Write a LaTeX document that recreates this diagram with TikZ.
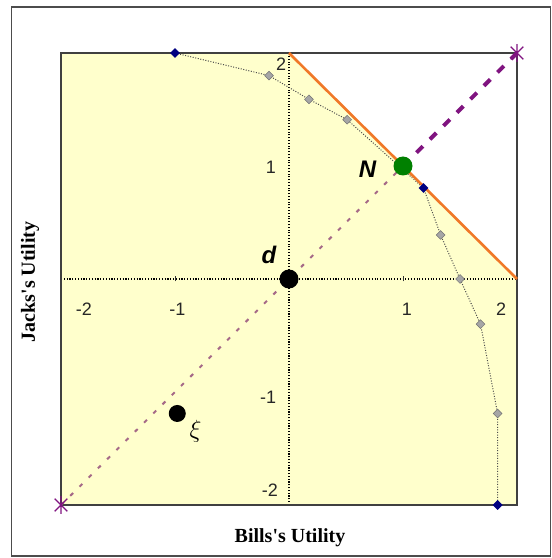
\documentclass[tikz,border=0pt]{standalone}
\usepackage{fontspec}
\setmainfont{Liberation Serif}
\newfontfamily\sansf{Liberation Sans}
\usetikzlibrary{shapes.geometric}
\pgfdeclarelayer{back}
\pgfdeclarelayer{mid}
\pgfsetlayers{back,mid,main}
\definecolor{plotyellow}{RGB}{255,255,204}
\definecolor{orangeline}{RGB}{240,120,40}
\definecolor{purp}{RGB}{128,20,128}
\definecolor{pinkbrown}{RGB}{165,105,135}
\definecolor{navymk}{RGB}{0,0,128}
\definecolor{ngreen}{RGB}{0,128,0}
\tikzset{
  outerframe/.style={draw=black!70, line width=1.2pt},
  plotbox/.style={draw=black!75, line width=1.6pt},
  axisdot/.style={black, line width=1.1pt, dash pattern=on 1.1pt off 1.7pt},
  ticklbl/.style={font=\sansf\fontsize{18}{18}\selectfont, text=black!85, inner sep=0pt},
  ptlbl/.style={font=\sansf\bfseries\itshape\fontsize{24}{24}\selectfont, inner sep=0pt},
  axtitle/.style={font=\bfseries\fontsize{20}{20}\selectfont, inner sep=0pt},
  bigdot/.style={circle, fill=black, inner sep=0pt, minimum size=19pt},
  navymark/.style={diamond, fill=navymk, inner sep=0pt, minimum size=10pt},
  graymark/.style={diamond, fill=gray!70, draw=black!55, line width=0.5pt, inner sep=0pt, minimum size=9pt},
  starmark/.style={circle, inner sep=0pt, minimum size=18pt,
    path picture={\draw[purp, line width=1.3pt]
      (path picture bounding box.north) -- (path picture bounding box.south)
      (path picture bounding box.north west) -- (path picture bounding box.south east)
      (path picture bounding box.north east) -- (path picture bounding box.south west);}},
  curveline/.style={draw=black!70, line width=1pt, dash pattern=on 1pt off 1.6pt},
  frontier/.style={draw=orangeline, line width=2.6pt},
  lowdash/.style={draw=pinkbrown, line width=2pt, dash pattern=on 4pt off 9pt},
  highdash/.style={draw=purp, line width=4pt, dash pattern=on 9pt off 10pt},
}
\begin{document}
\begin{tikzpicture}[x=1pt,y=1pt]
\useasboundingbox (0,0) rectangle (552,558);
\begin{pgfonlayer}{back}
  \fill[white] (0,0) rectangle (552,558);
\end{pgfonlayer}
\draw[outerframe] (11.5,2) rectangle (550.5,551);
\begin{scope}[shift={(289,279)}, x=114pt, y=113pt]
  \begin{pgfonlayer}{back}
    \fill[plotyellow] (-2,-2) -- (-2,2) -- (0,2) -- (2,0) -- (2,-2) -- cycle;
    \draw[axisdot] (-2,0) -- (2,0);
    \draw[axisdot] (0,-2) -- (0,2);
    \draw[black!80, line width=0.8pt] (-1,0) ++(0,-2.5pt) -- ++(0,5pt);
    \draw[black!80, line width=0.8pt] (1,0) ++(0,-2.5pt) -- ++(0,5pt);
    \draw[plotbox] (-2,-2) rectangle (2,2);
  \end{pgfonlayer}
  % frontier end points
  \coordinate (ftop) at (0,2);
  \coordinate (fright) at (2,0);
  % markers on the curve
  \node[navymark] (m1) at (-1,2) {};
  \node[graymark] (g1) at (-0.175,1.80) {};
  \node[graymark] (g2) at (0.175,1.59) {};
  \node[graymark] (g3) at (0.51,1.41) {};
  \node[navymark] (m2) at (1.18,0.805) {};
  \node[graymark] (g4) at (1.33,0.39) {};
  \node[graymark] (g5) at (1.50,0) {};
  \node[graymark] (g6) at (1.68,-0.40) {};
  \node[graymark] (g7) at (1.83,-1.19) {};
  \node[navymark] (m3) at (1.83,-2) {};
  % stars
  \node[starmark] (s1) at (-2,-2) {};
  \node[starmark] (s2) at (2,2) {};
  % points
  \node[bigdot] (d) at (0,0) {};
  \node[bigdot, fill=ngreen] (N) at (1,1) {};
  \node[bigdot, minimum size=17pt] (xi) at (-0.98,-1.19) {};
  \begin{pgfonlayer}{mid}
    \draw[curveline] (m1.center) -- (g1.center) -- (g2.center) -- (g3.center) -- (m2.center)
      -- (g4.center) -- (g5.center) -- (g6.center) -- (g7.center) -- (m3.center);
    \draw[frontier] (ftop) -- (fright);
    \draw[lowdash] (s1.center) -- (N.center);
    \draw[highdash] (N.center) -- (s2.center);
  \end{pgfonlayer}
  % labels
  \node[ptlbl] (dlbl) at (-0.175,0.21) {d};
  \node[ptlbl] (Nlbl) at (0.69,0.97) {N};
  \node[inner sep=0pt, font=\fontsize{26}{26}\selectfont] (xilbl) at (-0.82,-1.35) {$\xi$};
  \node[ticklbl] (y2) at (-0.07,1.90) {2};
  \node[ticklbl] (y1) at (-0.158,0.99) {1};
  \node[ticklbl] (ym1) at (-0.184,-1.044) {-1};
  \node[ticklbl] (ym2) at (-0.167,-1.867) {-2};
  \node[ticklbl] (xm2) at (-1.80,-0.265) {-2};
  \node[ticklbl] (xm1) at (-0.98,-0.265) {-1};
  \node[ticklbl] (x1) at (1.035,-0.265) {1};
  \node[ticklbl] (x2) at (1.86,-0.265) {2};
\end{scope}
\node[axtitle] (xtitle) at (290,20) {Bills\textquotesingle s Utility};
\node[axtitle, rotate=90] (ytitle) at (30,276) {Jacks\textquotesingle s Utility};
\end{tikzpicture}
\end{document}
